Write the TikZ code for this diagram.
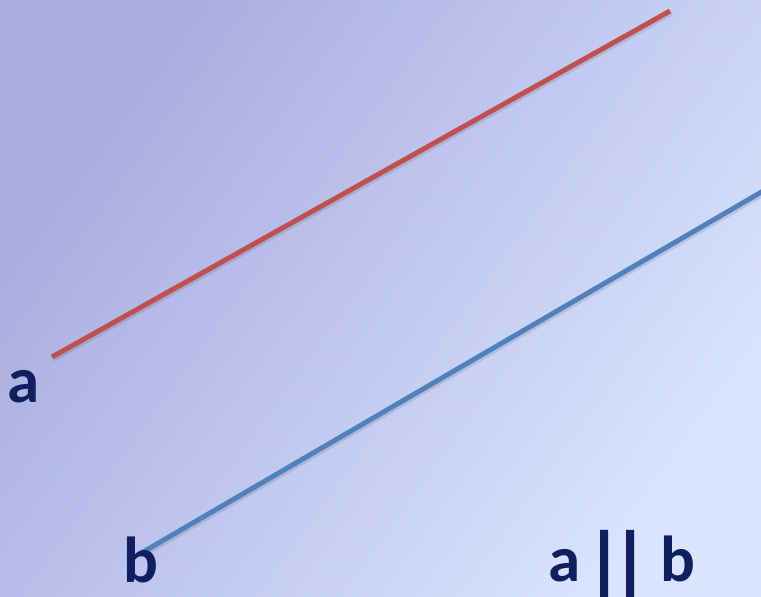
\documentclass[tikz,border=0pt]{standalone}
\usepackage{fontspec}
\setmainfont{Carlito}
\usepackage{xcolor}
\usepackage{graphicx}
\usetikzlibrary{calc}
\definecolor{bgtop}{HTML}{A8ACDE}
\definecolor{bgbot}{HTML}{DAE3FF}
\definecolor{lineRed}{HTML}{C0504D}
\definecolor{lineBlue}{HTML}{4F81BD}
\definecolor{navyT}{HTML}{0F1F5F}
\newcommand{\parbar}{\raisebox{-0.3em}{\scalebox{1.3}[1.5]{|}}}

\begin{document}
\begin{tikzpicture}[x=0.02cm, y=-0.02cm,
  lbl/.style={font=\fontsize{37}{40}\selectfont\bfseries\color{navyT}, inner sep=0pt, anchor=base west},
  redline/.style={lineRed, line width=2.8pt},
  blueline/.style={lineBlue, line width=2.8pt},
  shadowline/.style={black, opacity=0.1, line width=3pt},
]
% background
\useasboundingbox (0,0) rectangle (761,597);
\shade[shading=axis, top color=bgtop, bottom color=bgbot, shading angle=54] (0,0) rectangle (761,597);

% line a
\coordinate (a0) at (52,357);
\coordinate (a1) at (670,11);
\draw[shadowline] ($(a0)+(1.5,2)$) -- ($(a1)+(1.5,2)$);
\draw[redline] (a0) -- (a1);

% line b
\coordinate (b0) at (143,552);
\coordinate (b1) at (770,187);
\draw[shadowline] ($(b0)+(1.5,2)$) -- ($(b1)+(1.5,2)$);
\draw[blueline] (b0) -- (b1);

% labels
\node[lbl] (la) at (7,403) {a};
\node[lbl] (lb) at (123,583) {b};
\node[lbl] (lab) at (548,582) {a\hspace{0.06em}\parbar\hspace{-0.22em}\parbar\hspace{0.16em}b};
\end{tikzpicture}
\end{document}
